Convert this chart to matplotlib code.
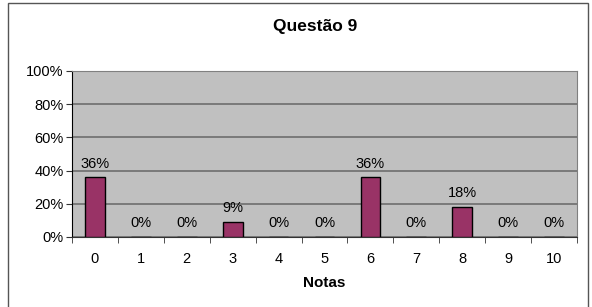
import matplotlib.pyplot as plt
from matplotlib.patches import Rectangle
import numpy as np

notas = ['0', '1', '2', '3', '4', '5', '6', '7', '8', '9', '10']
pct = [36, 0, 0, 9, 0, 0, 36, 0, 18, 0, 0]
yticks = [0, 20, 40, 60, 80, 100]

plt.rcParams['font.family'] = ['Liberation Sans', 'DejaVu Sans']

fig = plt.figure(figsize=(5.92, 3.07), dpi=100)
fig.patch.set_facecolor('white')

# outer chart border (open at the bottom, like the cropped original)
fig.patches.append(Rectangle((8 / 592, -0.05), 580 / 592, 1.04,
                             transform=fig.transFigure, fill=False,
                             edgecolor='#555555', linewidth=1.0))

ax = fig.add_axes([72 / 592, 70 / 307, 505 / 592, 166 / 307])
ax.set_facecolor('#c0c0c0')

x = np.arange(len(notas))
ax.bar(x, pct, width=0.43, color='#993366', edgecolor='black', linewidth=1.0, zorder=3)

for xi, v in zip(x, pct):
    ax.text(xi, v + 4, f'{v}%', ha='center', va='bottom', fontsize=10.5, zorder=4)

ax.set_xlim(-0.5, len(notas) - 0.5)
ax.set_ylim(0, 100)
ax.set_yticks(yticks)
ax.set_yticklabels([f'{t}%' for t in yticks], fontsize=10.5)
ax.yaxis.grid(True, color='#6e6e6e', linewidth=1.2, zorder=1)
ax.set_axisbelow(True)

ax.set_xticks(x)
ax.set_xticklabels(notas, fontsize=10.5)
ax.set_xticks(np.arange(-0.5, len(notas), 1), minor=True)
ax.tick_params(axis='x', which='major', length=0, pad=11)
ax.tick_params(axis='x', which='minor', length=4, color='#333333')
ax.tick_params(axis='y', length=4, color='#333333', pad=2)

for s in ['top', 'right']:
    ax.spines[s].set_color('#808080')
ax.spines['left'].set_color('black')
ax.spines['bottom'].set_color('#333333')

ax.set_xlabel('Notas', fontsize=11, fontweight='bold', labelpad=7)
fig.text(315 / 592, 1 - 27 / 307, 'Questão 9', ha='center', va='center',
         fontsize=12.5, fontweight='bold')

fig.savefig('out.png', dpi=100)
